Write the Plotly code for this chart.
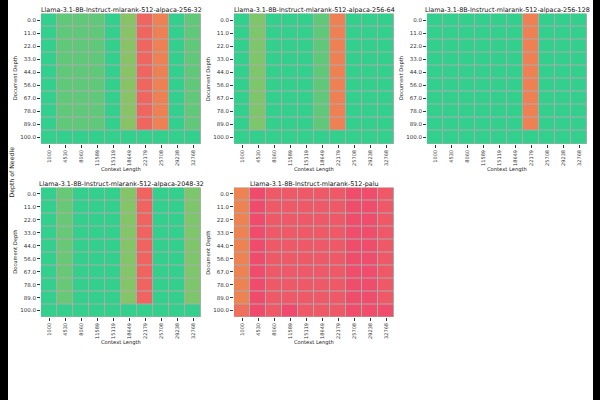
import plotly.graph_objects as go

context_lengths = ["1000", "4530", "8060", "11589", "15119", "18649", "22179", "25708", "29238", "32768"]
depths = ["0.0", "11.0", "22.0", "33.0", "44.0", "56.0", "67.0", "78.0", "89.0", "100.0"]

titles = [
    "Llama-3.1-8B-Instruct-mlarank-512-alpaca-256-32",
    "Llama-3.1-8B-Instruct-mlarank-512-alpaca-256-64",
    "Llama-3.1-8B-Instruct-mlarank-512-alpaca-256-128",
    "Llama-3.1-8B-Instruct-mlarank-512-alpaca-2048-32",
    "Llama-3.1-8B-Instruct-mlarank-512-palu",
]

# Scores per context length (0 = fail, 1 = perfect)
# "upper" = depths 0.0 .. 89.0 (uniform down each column), "last" = depth 100.0
alpaca_256_32_upper = [1.0, 0.88, 0.88, 0.88, 1.0, 0.77, 0.13, 0.25, 1.0, 0.88]
alpaca_256_32_last = [1.0, 1.0, 1.0, 1.0, 1.0, 1.0, 1.0, 1.0, 1.0, 1.0]

alpaca_256_64_upper = [1.0, 0.8, 1.0, 1.0, 1.0, 0.88, 0.25, 1.0, 1.0, 1.0]
alpaca_256_64_last = [1.0, 1.0, 1.0, 1.0, 1.0, 1.0, 1.0, 1.0, 1.0, 1.0]

alpaca_256_128_upper = [1.0, 1.0, 1.0, 1.0, 1.0, 1.0, 0.25, 1.0, 1.0, 1.0]
alpaca_256_128_last = [1.0, 1.0, 1.0, 1.0, 1.0, 1.0, 1.0, 1.0, 1.0, 1.0]

alpaca_2048_32_upper = [1.0, 0.86, 1.0, 1.0, 1.0, 0.78, 0.12, 1.0, 1.0, 0.8]
alpaca_2048_32_last = [1.0, 1.0, 1.0, 1.0, 1.0, 1.0, 1.0, 1.0, 1.0, 1.0]

palu_upper = [0.26, 0.01, 0.07, 0.07, 0.07, 0.07, 0.07, 0.02, 0.02, 0.07]
palu_last = [0.17, 0.01, 0.07, 0.0, 0.07, 0.07, 0.07, 0.02, 0.02, 0.02]

panels = [
    (alpaca_256_32_upper, alpaca_256_32_last),
    (alpaca_256_64_upper, alpaca_256_64_last),
    (alpaca_256_128_upper, alpaca_256_128_last),
    (alpaca_2048_32_upper, alpaca_2048_32_last),
    (palu_upper, palu_last),
]

colorscale = [[0.0, "#F0496E"], [0.5, "#EBB839"], [1.0, "#33CF8D"]]

W, H = 600, 400
# panel pixel boxes: (x0, x1, y0, y1)
boxes = [
    (41, 201, 13.5, 144),
    (234, 394, 13.5, 144),
    (427, 587, 13.5, 144),
    (41, 201, 187.5, 317),
    (234, 394, 187.5, 317),
]

FONT = "DejaVu Sans"
fig = go.Figure()
annotations = []
layout = dict(
    width=W, height=H,
    margin=dict(l=0, r=0, t=0, b=0),
    paper_bgcolor="white",
    plot_bgcolor="#ababab",
    font=dict(family=FONT, color="#222"),
    showlegend=False,
)

for i, ((upper, last), (x0, x1, y0, y1)) in enumerate(zip(panels, boxes)):
    z = [list(upper) for _ in depths[:-1]] + [list(last)]
    n = "" if i == 0 else str(i + 1)
    fig.add_trace(go.Heatmap(
        x=context_lengths, y=depths, z=z,
        zmin=0, zmax=1, colorscale=colorscale, showscale=False,
        xgap=1, ygap=1,
        xaxis="x" + n, yaxis="y" + n,
    ))
    layout["xaxis" + n] = dict(
        domain=[x0 / W, x1 / W], anchor="y" + n, type="category",
        tickangle=-90, tickfont=dict(size=5, family=FONT, color="#333"),
        ticks="outside", ticklen=3, tickwidth=0.6, tickcolor="#333",
        showgrid=False, zeroline=False, showline=False,
    )
    layout["yaxis" + n] = dict(
        domain=[1 - y1 / H, 1 - y0 / H], anchor="x" + n, type="category",
        autorange="reversed", tickfont=dict(size=5.5, family=FONT, color="#333"),
        ticks="outside", ticklen=3, tickwidth=0.6, tickcolor="#333",
        showgrid=False, zeroline=False, showline=False,
    )
    cx = (x0 + x1) / 2
    annotations.append(dict(
        text=titles[i], x=cx / W, y=1 - (y0 - 4) / H, xref="paper", yref="paper",
        xanchor="center", yanchor="middle", showarrow=False,
        font=dict(size=6.4, family=FONT, color="#111"),
    ))
    annotations.append(dict(
        text="Context Length", x=cx / W, y=1 - (y1 + 25.5) / H, xref="paper", yref="paper",
        xanchor="center", yanchor="middle", showarrow=False,
        font=dict(size=5.2, family=FONT, color="#222"),
    ))
    annotations.append(dict(
        text="Document Depth", x=(x0 - 25.5) / W, y=1 - ((y0 + y1) / 2) / H,
        xref="paper", yref="paper", textangle=-90,
        xanchor="center", yanchor="middle", showarrow=False,
        font=dict(size=5.2, family=FONT, color="#222"),
    ))

annotations.append(dict(
    text="Depth of Needle", x=11.5 / W, y=1 - 172 / H, xref="paper", yref="paper",
    textangle=-90, xanchor="center", yanchor="middle", showarrow=False,
    font=dict(size=6.2, family=FONT, color="#222"),
))

layout["annotations"] = annotations
layout["shapes"] = [
    dict(type="rect", xref="paper", yref="paper", x0=0, x1=8 / W, y0=0, y1=1,
         fillcolor="black", line=dict(width=0), layer="above"),
    dict(type="rect", xref="paper", yref="paper", x0=593 / W, x1=1, y0=0, y1=1,
         fillcolor="black", line=dict(width=0), layer="above"),
]
fig.update_layout(**layout)
fig.write_html(
    "out.html",
    config={"displayModeBar": False},
    post_script="document.body.style.margin='0';document.body.style.overflow='hidden';",
)
